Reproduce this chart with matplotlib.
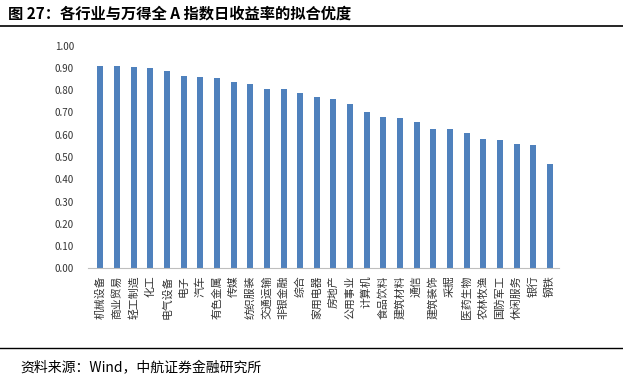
import matplotlib
matplotlib.use('Agg')
import matplotlib.pyplot as plt

plt.rcParams['font.family'] = ['Noto Sans CJK SC', 'DejaVu Sans']

# Industries and goodness of fit (R^2) vs Wind All-A daily returns
industries = ['机械设备', '商业贸易', '轻工制造', '化工', '电气设备', '电子', '汽车',
              '有色金属', '传媒', '纺织服装', '交通运输', '非银金融', '综合', '家用电器',
              '房地产', '公用事业', '计算机', '食品饮料', '建筑材料', '通信', '建筑装饰',
              '采掘', '医药生物', '农林牧渔', '国防军工', '休闲服务', '银行', '钢铁']
r2 = [0.911, 0.908, 0.903, 0.902, 0.888, 0.865, 0.859, 0.856, 0.836, 0.826,
      0.807, 0.804, 0.789, 0.769, 0.760, 0.740, 0.700, 0.679, 0.674, 0.658,
      0.625, 0.624, 0.610, 0.579, 0.576, 0.558, 0.552, 0.469]
yticks = [i / 10 for i in range(11)]

fig = plt.figure(figsize=(6.23, 3.82), dpi=100)
ax = fig.add_axes([88 / 623, 1 - 268.3 / 382, 471 / 623, (268.3 - 45.7) / 382])

x = range(len(industries))
ax.bar(x, r2, width=0.36, color='#4F81BD', zorder=2)

ax.set_ylim(0, 1.0)
ax.set_xlim(-0.75, len(industries) - 0.45)
ax.set_yticks(yticks)
ax.set_yticklabels([f'{v:.2f}' for v in yticks], fontsize=7, color='#333333')
ax.tick_params(axis='y', length=0, pad=10)
ax.tick_params(axis='x', length=0, pad=5)
ax.set_xticks(list(x))
ax.set_xticklabels(industries, rotation=90, fontsize=7.8, color='#333333',
                   ha='center', va='top')

for side in ['top', 'right', 'left']:
    ax.spines[side].set_visible(False)
ax.spines['bottom'].set_color('#BFBFBF')
ax.spines['bottom'].set_linewidth(0.8)

# title, rules and source
fig.text(8 / 623, 1 - 14 / 382, '图 27：各行业与万得全 A 指数日收益率的拟合优度',
         fontsize=11, fontweight='bold', va='center', ha='left')
fig.add_artist(plt.Line2D([0, 1], [1 - 26 / 382] * 2, color='black', lw=1.2))
fig.add_artist(plt.Line2D([0, 1], [1 - 348 / 382] * 2, color='black', lw=1.0))
fig.text(20 / 623, 1 - 368 / 382, '资料来源：Wind，中航证券金融研究所',
         fontsize=10, style='italic', va='center', ha='left')

fig.savefig('out.png', dpi=100)
